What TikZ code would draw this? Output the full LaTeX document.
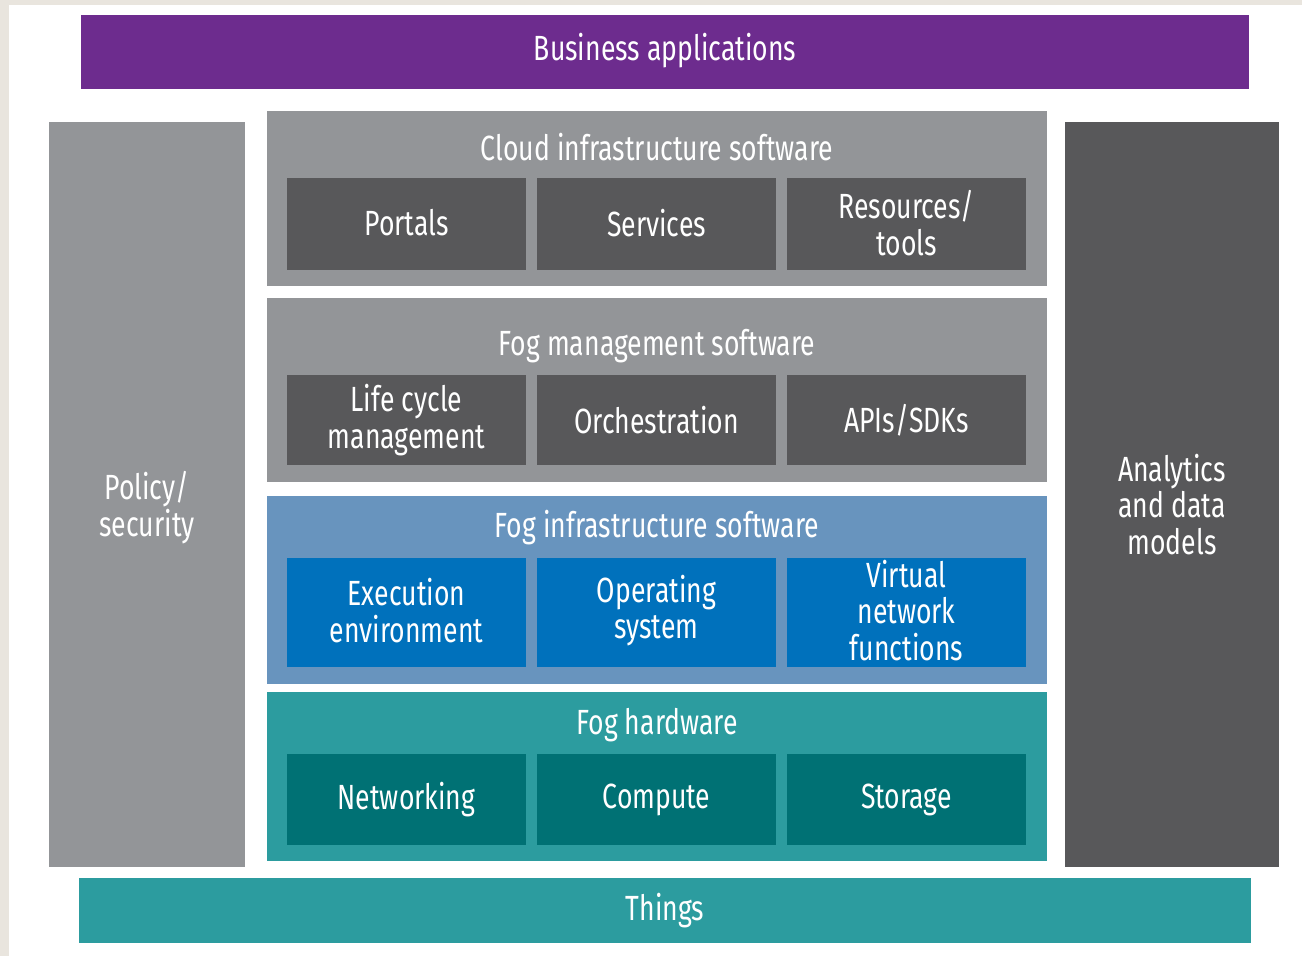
\documentclass[tikz,border=0pt]{standalone}
\usepackage{fontspec}
\setmainfont{Fira Sans}[FakeStretch=0.76]
\definecolor{bgbeige}{HTML}{E9E5DE}
\definecolor{purp}{HTML}{6D2C8E}
\definecolor{lgray}{HTML}{939598}
\definecolor{dgray}{HTML}{58585A}
\definecolor{lblue}{HTML}{6894BE}
\definecolor{dblue}{HTML}{0071BC}
\definecolor{lteal}{HTML}{2C9C9F}
\definecolor{dteal}{HTML}{007174}
\tikzset{
  blk/.style={anchor=north west, inner sep=0pt, outer sep=0pt, draw=none},
  txt/.style={text=white, font=\fontsize{35}{36.5}\selectfont, align=center, inner sep=0pt},
}
\newcommand{\blkat}[8]{% name, x1, y1, x2, y2, color, text, yshift
  \node[blk, fill=#6, minimum width=#4pt-#2pt, minimum height=#5pt-#3pt] (#1) at (#2,#3) {};
  \node[txt, yshift=#8] (#1t) at (#1.center) {#7};
}
\begin{document}
\begin{tikzpicture}[x=1pt,y=-1pt]
\useasboundingbox (0,0) rectangle (1302,956);
\fill[white] (0,0) rectangle (1302,956);
\fill[bgbeige] (0,0) rectangle (9,956);
\fill[bgbeige] (0,0) rectangle (1302,5);
% top and bottom bars
\blkat{biz}{81}{15}{1249}{89}{purp}{Business applications}{1pt}
\blkat{things}{79}{878}{1251}{943}{lteal}{Things}{0pt}
% side columns
\blkat{policy}{49}{122}{245}{867}{lgray}{Policy/\\security}{-13pt}
\blkat{analytics}{1065}{122}{1279}{867}{dgray}{Analytics\\and data\\models}{-10pt}
% cloud infrastructure software
\node[blk, fill=lgray, minimum width=780pt, minimum height=175pt] (cloud) at (267,111) {};
\node[txt] (cloudt) at (657,147) {Cloud infrastructure software};
\blkat{portals}{287}{178}{526}{270}{dgray}{Portals}{1pt}
\blkat{services}{537}{178}{776}{270}{dgray}{Services}{1pt}
\blkat{resources}{787}{178}{1026}{270}{dgray}{Resources/\\tools}{1pt}
% fog management software
\node[blk, fill=lgray, minimum width=780pt, minimum height=184pt] (fogm) at (267,298) {};
\node[txt] (fogmt) at (657,346) {Fog management software};
\blkat{life}{287}{375}{526}{465}{dgray}{Life cycle\\management}{0pt}
\blkat{orch}{537}{375}{776}{465}{dgray}{Orchestration}{0pt}
\blkat{apis}{787}{375}{1026}{465}{dgray}{APIs/SDKs}{0pt}
% fog infrastructure software
\node[blk, fill=lblue, minimum width=780pt, minimum height=188pt] (fogi) at (267,496) {};
\node[txt] (fogit) at (657,528) {Fog infrastructure software};
\blkat{exec}{287}{558}{526}{667}{dblue}{Execution\\environment}{2pt}
\blkat{os}{537}{558}{776}{667}{dblue}{Operating\\system}{2pt}
\blkat{vnf}{787}{558}{1026}{667}{dblue}{Virtual\\network\\functions}{2pt}
% fog hardware
\node[blk, fill=lteal, minimum width=780pt, minimum height=169pt] (fogh) at (267,692) {};
\node[txt] (fogh t) at (657,725) {Fog hardware};
\blkat{net}{287}{754}{526}{845}{dteal}{Networking}{0pt}
\blkat{compute}{537}{754}{776}{845}{dteal}{Compute}{0pt}
\blkat{storage}{787}{754}{1026}{845}{dteal}{Storage}{0pt}
\end{tikzpicture}
\end{document}
